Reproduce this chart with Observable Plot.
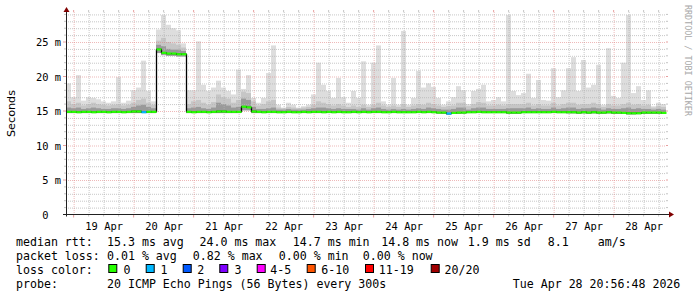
<!DOCTYPE html>
<html>
<head>
<meta charset="utf-8">
<script src="https://cdn.jsdelivr.net/npm/d3@7"></script>
<script src="https://cdn.jsdelivr.net/npm/@observablehq/plot@0.6"></script>
<style>
html,body{margin:0;padding:0;background:#fff;}
#wrap{position:relative;width:697px;height:297px;overflow:hidden;background:#fff;}
#wrap svg{position:absolute;left:0;display:block;}
</style>
</head>
<body>
<div id="wrap"></div>
<script>
// ---- data (2-hour bins, start Apr 18 20:56:48 UTC) ----
const smokeMax = [
19.0,17.0,20.2,16.5,17.0,16.9,16.7,16.4,16.2,16.4,
19.9,16.2,16.5,18.0,18.4,22.3,17.9,16.4,26.8,28.9,
27.5,27.0,26.7,24.8,18.0,18.0,25.1,18.8,17.9,18.4,
19.4,18.4,17.9,17.4,21.0,18.2,20.2,16.9,16.2,16.9,
20.5,24.5,15.9,15.5,16.2,15.9,15.5,15.7,15.9,17.4,
22.0,18.8,17.9,16.9,19.8,17.0,16.2,17.9,16.9,22.2,
15.9,22.0,24.5,16.4,15.9,19.8,15.9,26.6,15.9,16.9,
20.8,18.4,19.0,18.5,16.9,15.9,16.4,17.0,18.6,18.0,
16.0,17.9,18.2,18.8,16.4,16.6,17.0,16.4,28.9,17.9,
17.3,17.6,20.4,16.9,19.5,16.6,16.5,21.2,17.0,18.0,
21.2,22.8,17.9,22.4,18.4,18.8,21.7,15.9,24.1,17.2,
16.9,22.0,28.9,17.6,18.6,16.6,18.0,15.7,16.2,16.0];
const smokeUpper = [
16.4,16.0,16.2,15.8,16.0,16.2,16.0,15.9,15.8,15.9,
16.0,15.8,15.9,16.2,16.6,16.8,16.2,15.9,25.2,25.6,
25.0,24.8,24.6,24.2,16.0,16.4,16.6,16.2,15.9,16.3,
17.4,17.0,16.8,16.2,16.6,17.8,17.6,16.4,15.8,16.0,
16.4,16.6,15.5,15.4,15.6,15.5,15.4,15.5,15.6,15.9,
16.4,16.2,16.0,15.8,16.0,15.8,15.6,15.8,15.6,15.9,
15.6,15.9,16.2,15.8,15.6,15.8,15.6,16.0,15.6,15.8,
16.0,15.9,16.2,16.0,15.8,15.6,15.7,15.8,16.2,16.2,
15.7,16.0,16.3,16.2,15.8,15.8,15.9,15.8,16.0,16.0,
16.0,16.0,16.2,15.8,16.0,15.8,15.8,16.2,15.8,16.0,
16.2,16.2,15.9,16.0,16.0,16.2,16.0,15.6,16.0,15.8,
15.8,16.0,16.2,15.9,16.0,15.8,15.9,15.5,15.7,15.6];
const smokeDense = [
15.5,15.4,15.5,15.3,15.4,15.5,15.4,15.3,15.3,15.4,
15.4,15.3,15.4,15.6,15.8,15.9,15.6,15.4,24.6,24.4,
24.0,23.9,23.9,23.7,15.4,15.5,15.6,15.4,15.3,15.5,
16.2,16.0,15.8,15.5,15.6,16.8,16.6,15.6,15.3,15.3,
15.4,15.5,15.2,15.2,15.3,15.2,15.2,15.2,15.3,15.4,
15.5,15.5,15.4,15.3,15.4,15.3,15.3,15.3,15.2,15.4,
15.2,15.4,15.5,15.3,15.2,15.3,15.2,15.3,15.2,15.3,
15.4,15.3,15.5,15.4,15.3,15.2,15.2,15.3,15.5,15.5,
15.2,15.4,15.5,15.5,15.3,15.3,15.3,15.3,15.4,15.4,
15.4,15.4,15.5,15.3,15.4,15.3,15.3,15.5,15.3,15.4,
15.5,15.5,15.3,15.4,15.4,15.5,15.4,15.2,15.4,15.3,
15.3,15.4,15.5,15.3,15.4,15.3,15.3,15.2,15.3,15.2];
const smokeLow = [
14.7,14.7,14.7,14.7,14.7,14.7,14.7,14.7,14.7,14.7,
14.7,14.7,14.7,14.7,14.7,14.7,14.7,14.7,23.4,23.1,
23.0,23.0,22.9,22.9,14.7,14.7,14.7,14.7,14.7,14.7,
14.7,14.7,14.7,14.7,14.7,15.1,15.1,14.7,14.7,14.7,
14.7,14.7,14.7,14.7,14.7,14.7,14.7,14.7,14.7,14.7,
14.7,14.7,14.7,14.7,14.7,14.7,14.7,14.7,14.7,14.7,
14.7,14.7,14.7,14.7,14.7,14.7,14.7,14.7,14.7,14.7,
14.7,14.7,14.7,14.7,14.65,14.6,14.5,14.6,14.6,14.65,
14.7,14.7,14.7,14.7,14.7,14.7,14.7,14.7,14.6,14.6,
14.6,14.7,14.7,14.7,14.7,14.7,14.7,14.7,14.7,14.7,
14.65,14.65,14.6,14.65,14.6,14.65,14.6,14.6,14.65,14.6,
14.6,14.6,14.5,14.5,14.55,14.6,14.6,14.6,14.6,14.6];
const medianRtt = [
14.95,14.95,14.9,14.95,14.95,14.9,14.95,14.95,14.9,14.95,
14.95,14.9,14.95,15.0,15.0,14.9,14.95,14.95,24.0,23.5,
23.4,23.4,23.3,23.3,14.95,14.9,14.95,14.95,14.9,14.95,
15.0,15.0,14.95,14.95,14.95,15.7,15.6,15.0,14.95,14.9,
14.95,14.95,14.9,14.9,14.95,14.9,14.9,14.95,14.9,14.95,
14.95,14.9,14.95,14.9,14.95,14.9,14.9,14.95,14.9,14.95,
14.9,14.95,14.95,14.9,14.9,14.95,14.9,14.9,14.9,14.9,
14.95,14.9,14.95,14.9,14.85,14.85,14.7,14.8,14.85,14.85,
14.9,14.9,14.95,14.9,14.9,14.9,14.9,14.9,14.85,14.85,
14.85,14.9,14.9,14.9,14.9,14.9,14.9,14.95,14.9,14.9,
14.9,14.9,14.85,14.9,14.85,14.9,14.85,14.85,14.9,14.85,
14.85,14.8,14.75,14.75,14.75,14.85,14.85,14.85,14.85,14.8];
const lossCount = [
0,0,0,0,0,0,0,0,0,0, 0,0,0,0,0,1,0,0,0,0,
0,0,0,0,0,0,0,0,0,0, 0,0,0,0,0,0,0,0,0,0,
0,0,0,0,0,0,0,0,0,0, 0,0,0,0,0,0,0,0,0,0,
0,0,0,0,0,0,0,0,0,0, 0,0,0,0,0,0,1,0,0,0,
0,0,0,0,0,0,0,0,0,0, 0,0,0,0,0,0,0,0,0,0,
0,0,0,0,0,0,0,0,0,0, 0,0,0,0,0,0,0,0,0,0];
const lossLabels = ["0","1","2","3","4-5","6-10","11-19","20/20"];
const lossColors = ["#26ff00","#00b8ff","#0059ff","#7e00ff","#ff00ff","#ff5500","#ff0000","#a00000"];
const dayLabels = ["19 Apr","20 Apr","21 Apr","22 Apr","23 Apr","24 Apr","25 Apr","26 Apr","27 Apr","28 Apr"];
const yTicks = [0,5,10,15,20,25];
const yTickLabels = ["0\u00a0\u00a0","5 m","10 m","15 m","20 m","25 m"];
const statLines = [
  [[16,"median rtt:"],[107,"15.3 ms avg"],[199.5,"24.0 ms max"],[292.8,"14.7 ms min"],[381.2,"14.8 ms now"],[467.8,"1.9 ms sd"],[547.8,"8.1"],[597.8,"am/s"]],
  [[16,"packet loss:"],[107,"0.01 % avg"],[192.8,"0.82 % max"],[278.8,"0.00 % min"],[362.8,"0.00 % now"]],
  [[16,"loss color:"]],
  [[16,"probe:"],[107,"20 ICMP Echo Pings (56 Bytes) every 300s"],[512.8,"Tue Apr 28 20:56:48 2026"]]
];
const swatchX = [108.3,145.7,182.7,219.3,256.7,306.7,365,430.7];
const swatchLabelX = [123.5,160.5,197.2,234.5,270.2,321.2,378.8,444.5];

// ---- build ----
const tStart = new Date(Date.UTC(2026,3,18,20,56,48));
const tEnd = new Date(Date.UTC(2026,3,28,20,56,48));
const bin = 2*3600*1000;
const rows = smokeMax.map((mx,i)=>({
  t0: new Date(+tStart + i*bin), t1: new Date(+tStart + (i+1)*bin),
  max: mx, upper: smokeUpper[i], dense: smokeDense[i], low: smokeLow[i],
  median: medianRtt[i], loss: lossCount[i]
}));
const dayNoons = dayLabels.map((_,i)=>new Date(Date.UTC(2026,3,19+i,12)));
const majorX = d3.utcDay.range(tStart, tEnd);
const minorX = d3.utcHour.every(6).range(tStart, tEnd).filter(d=>d.getUTCHours()!==0);
const yTop = 29.35;
const minorY = d3.range(1, 30).filter(v=>v%5!==0);
const majorY = yTicks.filter(v=>v>0);
const mono = "DejaVu Sans Mono";

const plot = Plot.plot({
  width: 697, height: 232,
  marginLeft: 66, marginRight: 31, marginTop: 12, marginBottom: 17.5,
  x: {type: "utc", domain: [tStart, tEnd], axis: null},
  y: {domain: [0, yTop], axis: null},
  style: {background: "#fff", fontFamily: mono, fontSize: "10.4px", overflow: "visible"},
  marks: [
    Plot.rect(rows, {x1: "t0", x2: "t1", y1: "low", y2: "max", fill: "#dddddd"}),
    Plot.rect(rows, {x1: "t0", x2: "t1", y1: "low", y2: "upper", fill: "#c6c6c6"}),
    Plot.rect(rows, {x1: "t0", x2: "t1", y1: "low", y2: "dense", fill: "#9a9a9a"}),
    Plot.ruleY(minorY, {stroke: "#b4b4b4", strokeOpacity: 0.75, strokeDasharray: "1,1"}),
    Plot.ruleX(minorX, {x: d=>d, stroke: "#b4b4b4", strokeOpacity: 0.75, strokeDasharray: "1,1"}),
    Plot.ruleY(majorY, {stroke: "#e08080", strokeOpacity: 0.55, strokeDasharray: "1,1"}),
    Plot.ruleX(majorX, {x: d=>d, stroke: "#e08080", strokeOpacity: 0.55, strokeDasharray: "1,1"}),
    Plot.line(rows, {x: "t0", y: "median", curve: "step-after", stroke: "#000", strokeWidth: 1.3}),
    Plot.link(rows, {x1: "t0", x2: "t1", y1: "median", y2: "median", stroke: d=>lossColors[d.loss], strokeWidth: 2.2, strokeLinecap: "butt"}),
    Plot.text(yTicks, {x: ()=>tStart, y: d=>d, text: (d,i)=>yTickLabels[i], textAnchor: "end", dx: -5.5, dy: 0.4, fill: "#000", fontFamily: mono, fontSize: 10.4}),
    Plot.text(dayNoons, {x: d=>d, y: ()=>0, text: (d,i)=>dayLabels[i], textAnchor: "middle", dy: 11.2, fill: "#000", fontFamily: mono, fontSize: 10.4})
  ]
});
plot.style.top = "0px";
document.getElementById("wrap").appendChild(plot);

// axes, arrows, grid end ticks
const xs = plot.scale("x"), ys = plot.scale("y");
const X0 = xs.apply(tStart), X1 = xs.apply(tEnd);
const Y0 = ys.apply(0), YT = ys.apply(yTop);
const g = d3.select(plot).append("g");
minorY.forEach(v=>{const yy=ys.apply(v);
  g.append("line").attr("x1",X0-2).attr("x2",X0).attr("y1",yy).attr("y2",yy).attr("stroke","#c4c4c4");
  g.append("line").attr("x1",X1).attr("x2",X1+2).attr("y1",yy).attr("y2",yy).attr("stroke","#c4c4c4");});
majorY.concat([0]).forEach(v=>{const yy=ys.apply(v);
  g.append("line").attr("x1",X0-3).attr("x2",X0).attr("y1",yy).attr("y2",yy).attr("stroke","#e8a0a0");
  g.append("line").attr("x1",X1).attr("x2",X1+2).attr("y1",yy).attr("y2",yy).attr("stroke","#e8a0a0");});
minorX.forEach(d=>{const xx=xs.apply(d);
  g.append("line").attr("x1",xx).attr("x2",xx).attr("y1",Y0).attr("y2",Y0+2).attr("stroke","#c4c4c4");
  g.append("line").attr("x1",xx).attr("x2",xx).attr("y1",YT-2).attr("y2",YT).attr("stroke","#c4c4c4");});
majorX.forEach(d=>{const xx=xs.apply(d);
  g.append("line").attr("x1",xx).attr("x2",xx).attr("y1",Y0).attr("y2",Y0+3).attr("stroke","#e8a0a0");
  g.append("line").attr("x1",xx).attr("x2",xx).attr("y1",YT-2).attr("y2",YT).attr("stroke","#e8a0a0");});
g.append("line").attr("x1",X0-3).attr("x2",X1+4).attr("y1",Y0).attr("y2",Y0).attr("stroke","#212121");
g.append("line").attr("x1",X0+0.5).attr("x2",X0+0.5).attr("y1",Y0+2).attr("y2",YT-1).attr("stroke","#212121");
g.append("path").attr("d",`M${X1+3},${Y0-3}L${X1+8},${Y0}L${X1+3},${Y0+3}Z`).attr("fill","#800000");
g.append("path").attr("d",`M${X0-2.5},${YT}L${X0+0.5},${YT-5}L${X0+3.5},${YT}Z`).attr("fill","#800000");
g.append("text").attr("transform","translate(15,113.5) rotate(-90)").attr("text-anchor","middle")
  .attr("font-family","DejaVu Sans").attr("font-size","11.2px").attr("fill","#000").text("Seconds");
g.append("text").attr("transform","translate(684.5,5) rotate(90)").attr("text-anchor","start")
  .attr("font-family",mono).attr("font-size","8.4px").attr("fill","#a8a8a8").text("RRDTOOL / TOBI OETIKER");

// legend / statistics block
const leg = d3.select("#wrap").append("svg").attr("width",697).attr("height",65).style("top","232px");
const baselines = [13.7, 27.7, 41.7, 55.7];
statLines.forEach((line,li)=>line.forEach(([x,s])=>{
  leg.append("text").attr("x",x).attr("y",baselines[li]).attr("font-family",mono).attr("font-size","11.6px")
    .attr("fill","#000").style("white-space","pre").text(s);
}));
lossLabels.forEach((lab,i)=>{
  leg.append("rect").attr("x",swatchX[i]+0.5).attr("y",32.5).attr("width",8).attr("height",8)
    .attr("fill",lossColors[i]).attr("stroke","#000").attr("stroke-width",1);
  leg.append("text").attr("x",swatchLabelX[i]).attr("y",baselines[2]).attr("font-family",mono).attr("font-size","11.6px")
    .attr("fill","#000").text(lab);
});
</script>
</body>
</html>
